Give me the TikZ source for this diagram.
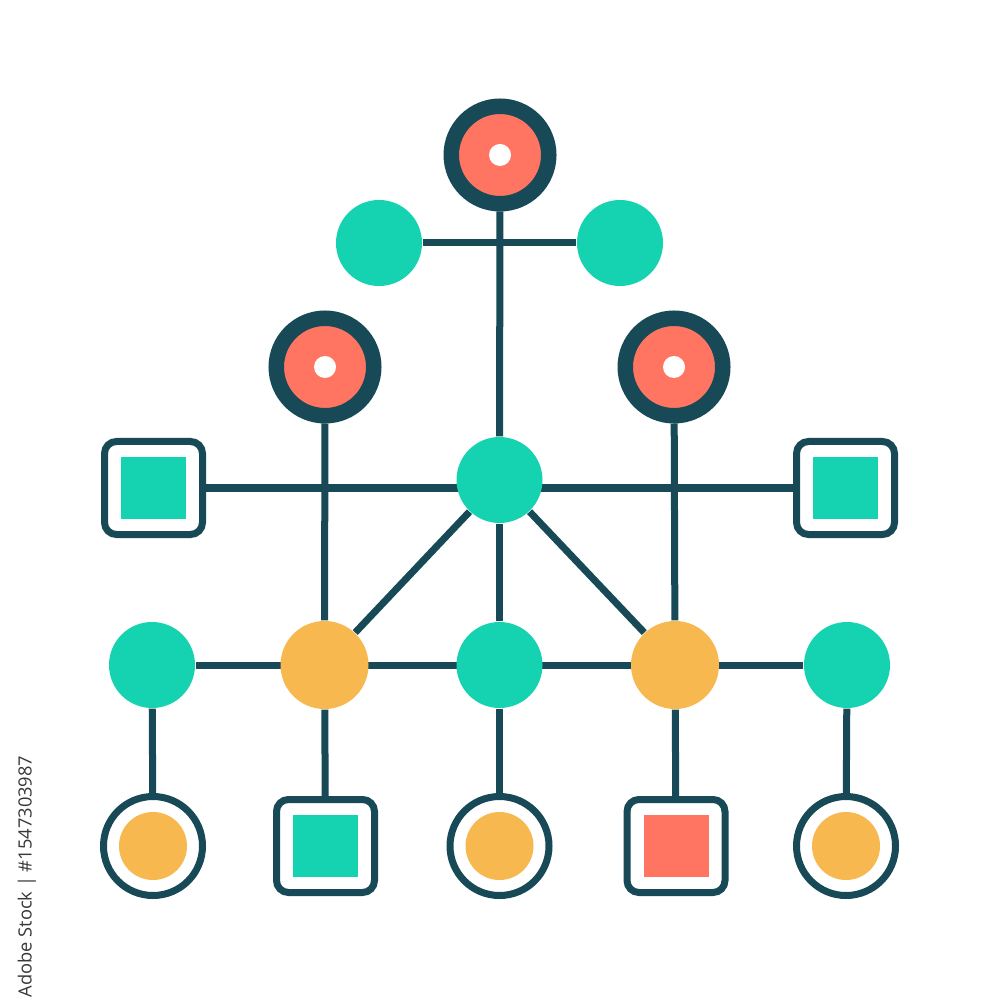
\documentclass[tikz,border=0pt]{standalone}
\usepackage{fontspec}
\setmainfont{Open Sans}
\usepackage{tikz}
\usetikzlibrary{backgrounds}
\definecolor{linedark}{HTML}{174A56}
\definecolor{mint}{HTML}{15D3B1}
\definecolor{coral}{HTML}{FF7562}
\definecolor{amber}{HTML}{F6B84F}

\begin{document}
\begin{tikzpicture}[x=1cm,y=-1cm,
  link/.style={draw=linedark,line width=0.07cm},
  hubnode/.style={circle,fill=mint,inner sep=0pt,minimum size=0.86cm},
  amberdot/.style={circle,fill=amber,inner sep=0pt,minimum size=0.88cm},
  ringnode/.style={circle,fill=coral,draw=linedark,line width=0.155cm,inner sep=0pt,minimum size=0.975cm,
    path picture={\fill[white] (path picture bounding box.center) circle (0.11);}},
  ringleaf/.style={circle,fill=white,draw=linedark,line width=0.07cm,inner sep=0pt,minimum size=0.99cm,
    path picture={\fill[amber] (path picture bounding box.center) circle (0.34);}},
  boxleaf/.style={rectangle,rounded corners=0.12cm,fill=white,draw=linedark,line width=0.07cm,inner sep=0pt,
    minimum width=0.98cm,minimum height=0.93cm,
    path picture={\fill[#1,sharp corners] ([shift={(-0.325,-0.31)}]path picture bounding box.center) rectangle ([shift={(0.325,0.31)}]path picture bounding box.center);}}]
\useasboundingbox (0,0) rectangle (10,10);

\node[ringnode] (top) at (5.00,1.55) {};
\node[hubnode] (gl) at (3.79,2.43) {};
\node[hubnode] (gr) at (6.20,2.43) {};
\node[ringnode] (rl) at (3.25,3.67) {};
\node[ringnode] (rr) at (6.74,3.67) {};
\node[boxleaf=mint] (sl) at (1.535,4.88) {};
\node[boxleaf=mint] (sr) at (8.455,4.88) {};
\node[hubnode] (hub) at (4.995,4.80) {};

\node[hubnode] (m1) at (1.52,6.65) {};
\node[amberdot] (m2) at (3.245,6.65) {};
\node[hubnode] (m3) at (4.995,6.65) {};
\node[amberdot] (m4) at (6.75,6.65) {};
\node[hubnode] (m5) at (8.47,6.65) {};

\node[ringleaf] (b1) at (1.53,8.46) {};
\node[boxleaf=mint] (b2) at (3.255,8.46) {};
\node[ringleaf] (b3) at (4.995,8.46) {};
\node[boxleaf=coral] (b4) at (6.76,8.46) {};
\node[ringleaf] (b5) at (8.46,8.46) {};

\begin{pgfonlayer}{background}
\fill[white] (0,0) rectangle (10,10);
\draw[link] (top) -- (hub);
\draw[link] (gl) -- (gr);
\draw[link] (sl) -- (sr);
\draw[link] (rl) -- (m2);
\draw[link] (rr) -- (m4);
\draw[link] (hub) -- (m2);
\draw[link] (hub) -- (m4);
\draw[link] (hub) -- (m3);
\draw[link] (m1) -- (m5);
\foreach \i in {1,...,5}
  \draw[link] (m\i) -- (b\i);
\end{pgfonlayer}

\node[rotate=90,anchor=east,text=black!78,font=\fontsize{5.2}{6}\selectfont,inner sep=0pt] (stockid) at (0.27,7.55) {Adobe Stock | \#1547303987};
\end{tikzpicture}
\end{document}
